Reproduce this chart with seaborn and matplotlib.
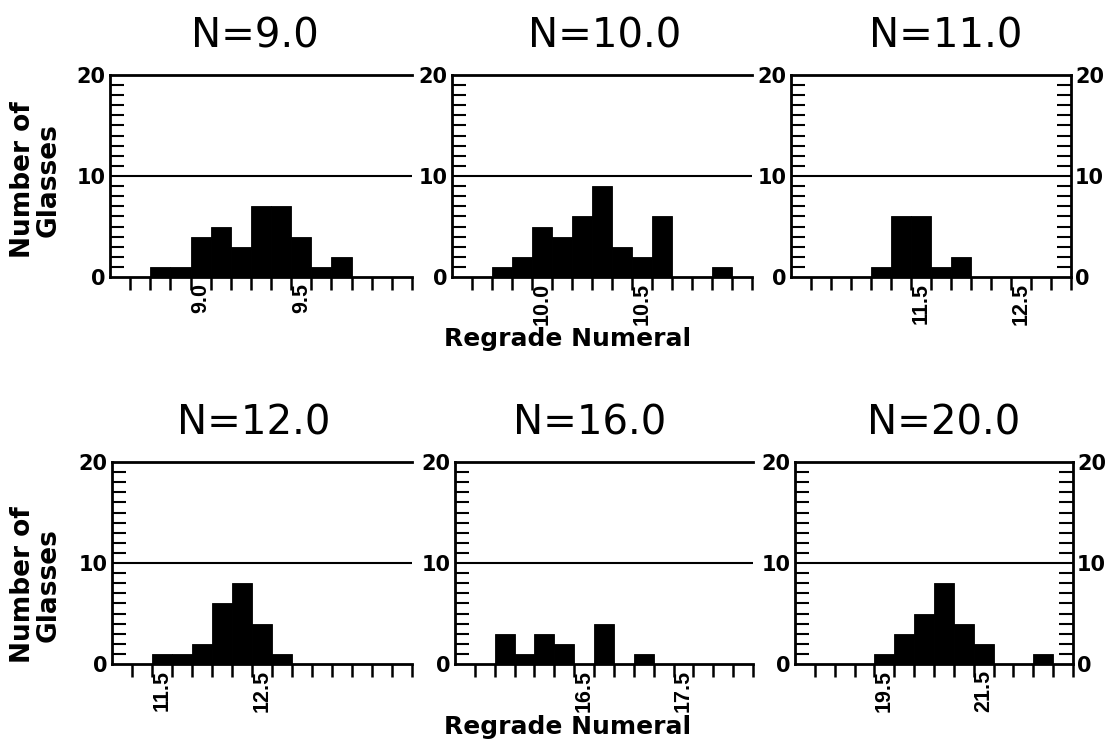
import numpy as np
import pandas as pd
import seaborn as sns
import matplotlib.pyplot as plt
from matplotlib.ticker import FixedLocator, MultipleLocator

# Regrade numeral histograms, one panel per nominal N
titles = ["N=9.0", "N=10.0", "N=11.0", "N=12.0", "N=16.0", "N=20.0"]

# bin centres and number of glasses
n9_centres = [8.8, 8.9, 9.0, 9.1, 9.2, 9.3, 9.4, 9.5, 9.6, 9.7]
n9_counts = [1, 1, 4, 5, 3, 7, 7, 4, 1, 2]

n10_centres = [9.8, 9.9, 10.0, 10.1, 10.2, 10.3, 10.4, 10.5, 10.6, 10.9]
n10_counts = [1, 2, 5, 4, 6, 9, 3, 2, 6, 1]

n11_centres = [11.1, 11.3, 11.5, 11.7, 11.9]
n11_counts = [1, 6, 6, 1, 2]

n12_centres = [11.5, 11.7, 11.9, 12.1, 12.3, 12.5, 12.7]
n12_counts = [1, 1, 2, 6, 8, 4, 1]

n16_centres = [15.7, 15.9, 16.1, 16.3, 16.7, 17.1]
n16_counts = [3, 1, 3, 2, 4, 1]

n20_centres = [19.5, 19.9, 20.3, 20.7, 21.1, 21.5, 22.7]
n20_counts = [1, 3, 5, 8, 4, 2, 1]

centres = [n9_centres, n10_centres, n11_centres, n12_centres, n16_centres, n20_centres]
counts = [n9_counts, n10_counts, n11_counts, n12_counts, n16_counts, n20_counts]

bin_widths = [0.1, 0.1, 0.2, 0.2, 0.2, 0.4]
x_ranges = [(8.55, 10.05), (9.55, 11.05), (10.2, 13.0),
            (11.0, 14.0), (15.2, 18.2), (17.7, 23.3)]
x_labels = [[9.0, 9.5], [10.0, 10.5], [11.5, 12.5],
            [11.5, 12.5], [16.5, 17.5], [19.5, 21.5]]

sns.set_style("ticks")
plt.rcParams["font.family"] = ["DejaVu Sans"]
plt.rcParams.update({"text.color": "black", "axes.edgecolor": "black",
                     "xtick.color": "black", "ytick.color": "black",
                     "axes.labelcolor": "black"})

W, H = 1110, 741
fig = plt.figure(figsize=(W / 100, H / 100), dpi=100)

# panel boxes in pixels: left, y of zero line, width, title centre
boxes = [(110, 277, 302, 255), (452, 277, 300, 605), (791, 277, 280, 946),
         (112, 664, 300, 254), (455, 664, 298, 590), (795, 664, 278, 944)]
ax_h = 202

for i, (left, y0, wpx, tc) in enumerate(boxes):
    ax = fig.add_axes([left / W, (H - y0) / H, wpx / W, ax_h / H])
    lo, hi = x_ranges[i]
    w = bin_widths[i]
    edges = [round(e, 3) for e in np.arange(lo, hi + w / 2, w)]
    df = pd.DataFrame({"value": centres[i], "count": counts[i]})
    sns.histplot(data=df, x="value", weights="count", bins=edges, ax=ax,
                 color="black", alpha=1, edgecolor="black", linewidth=0.6)
    ax.axhline(10, color="black", lw=1.5, zorder=0)

    ax.set_xlim(lo, hi)
    ax.set_ylim(0, 20)
    ax.set_xlabel("")
    ax.set_ylabel("")

    last = i in (2, 5)
    for side in ["left", "top", "bottom"]:
        ax.spines[side].set_linewidth(2)
    ax.spines["right"].set_visible(last)
    ax.spines["right"].set_linewidth(2)

    ax.xaxis.set_major_locator(FixedLocator(x_labels[i]))
    ax.xaxis.set_minor_locator(FixedLocator(edges[1:]))
    ax.set_xticklabels([f"{v:.1f}" for v in x_labels[i]])
    ax.tick_params(axis="x", which="major", length=0, pad=4,
                   labelrotation=90, labelsize=15.5)
    ax.tick_params(axis="x", which="minor", direction="out",
                   length=9, width=1.8)
    for lab in ax.get_xticklabels():
        lab.set_fontweight("bold")
        lab.set_family(["Liberation Sans Narrow", "Liberation Sans"])

    ax.yaxis.set_major_locator(FixedLocator([0, 10, 20]))
    ax.yaxis.set_minor_locator(MultipleLocator(1))
    ax.tick_params(axis="y", which="major", length=0, pad=3, labelsize=15)
    ax.tick_params(axis="y", which="minor", direction="in",
                   length=10, width=1.5)
    if last:
        ax.tick_params(axis="y", which="both", right=True, labelright=True)
    for lab in ax.get_yticklabels():
        lab.set_fontweight("bold")

    ax.set_title(titles[i], fontsize=29, pad=20, x=(tc - left) / wpx)

for ymid in [180, 585]:
    fig.text(36 / W, 1 - ymid / H, "Number of\nGlasses", rotation=90,
             ha="center", va="center", multialignment="center",
             fontsize=19, fontweight="bold", linespacing=0.95)

for ybase in [346, 734]:
    fig.text(568 / W, 1 - ybase / H, "Regrade Numeral", ha="center",
             va="baseline", fontsize=18, fontweight="bold")

fig.savefig("out.png", dpi=100)
